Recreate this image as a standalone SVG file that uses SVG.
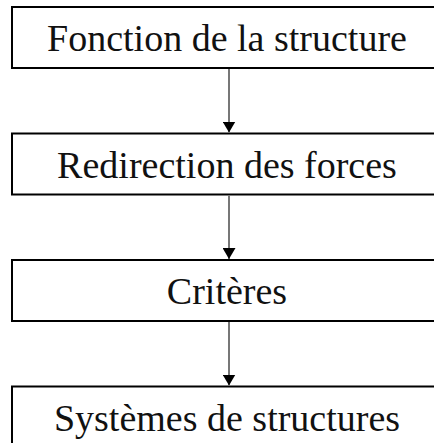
<svg xmlns="http://www.w3.org/2000/svg" width="434" height="443" viewBox="0 0 434 443">
<style>
.box{fill:#fff;stroke:#000;stroke-width:2}
.lbl{font-family:"Liberation Serif","Times New Roman",serif;font-size:38px;fill:#111;text-anchor:middle}
.conn{stroke:#777;stroke-width:2;fill:none}
</style>
<defs>
<marker id="ah" markerWidth="11" markerHeight="13" refX="11" refY="6.5" orient="auto" markerUnits="userSpaceOnUse">
<path d="M0,0 L11,6.5 L0,13 Z" fill="#000"/>
</marker>
</defs>
<rect width="434" height="443" fill="#fff"/>
<g id="n1"><rect class="box" x="12" y="7" width="440" height="61"/><text class="lbl" x="227" y="51">Fonction de la structure</text></g>
<g id="n2"><rect class="box" x="12" y="133.5" width="440" height="61"/><text class="lbl" x="227" y="177.5">Redirection des forces</text></g>
<g id="n3"><rect class="box" x="12" y="260" width="440" height="61"/><text class="lbl" x="227" y="304">Critères</text></g>
<g id="n4"><rect class="box" x="12" y="386.5" width="440" height="61"/><text class="lbl" x="227" y="430.5">Systèmes de structures</text></g>
<g id="connectors">
<line class="conn" x1="229" y1="69" x2="229" y2="132.5" marker-end="url(#ah)"/>
<line class="conn" x1="229" y1="195.5" x2="229" y2="259" marker-end="url(#ah)"/>
<line class="conn" x1="229" y1="322" x2="229" y2="385.5" marker-end="url(#ah)"/>
</g>
</svg>
